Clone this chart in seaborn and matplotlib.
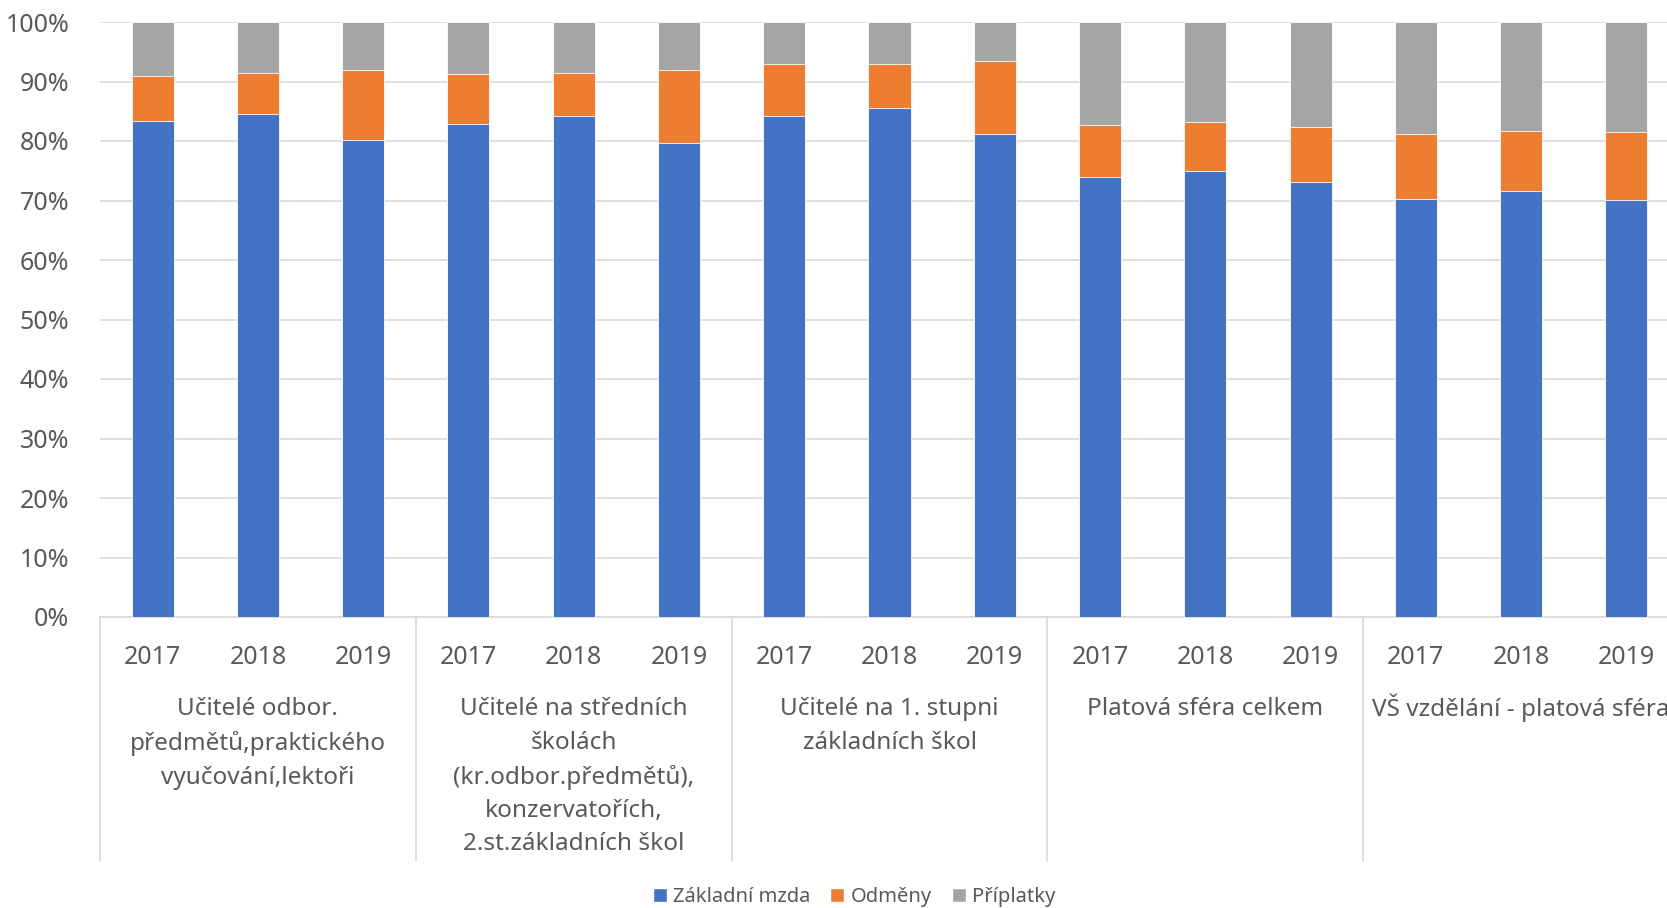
import pandas as pd
import numpy as np
import seaborn as sns
import matplotlib.pyplot as plt
import matplotlib.transforms as mtransforms
from matplotlib.patches import Patch

# data (percent of total pay)
groups = ['Učitelé odbor.\npředmětů,praktického\nvyučování,lektoři',
          'Učitelé na středních\nškolách\n(kr.odbor.předmětů),\nkonzervatořích,\n2.st.základních škol',
          'Učitelé na 1. stupni\nzákladních škol',
          'Platová sféra celkem',
          'VŠ vzdělání - platová sféra']
years = ['2017', '2018', '2019']
zakladni = [83.4, 84.5, 80.2, 82.9, 84.2, 79.7, 84.2, 85.6, 81.1, 73.9, 74.9, 73.1, 70.3, 71.6, 70.1]
odmeny = [7.5, 6.9, 11.8, 8.4, 7.3, 12.3, 8.8, 7.4, 12.4, 8.8, 8.3, 9.3, 10.9, 10.0, 11.4]
priplatky = [9.1, 8.6, 8.0, 8.7, 8.5, 8.0, 7.0, 7.0, 6.5, 17.3, 16.8, 17.6, 18.8, 18.4, 18.5]

series = ['Základní mzda', 'Odměny', 'Příplatky']
colors = ['#4472C4', '#ED7D31', '#A5A5A5']

df = pd.DataFrame({'slot': [str(i) for i in range(len(zakladni))],
                   'Základní mzda': zakladni, 'Odměny': odmeny, 'Příplatky': priplatky})
cum = df[series].cumsum(axis=1)

sns.set_style('white')
plt.rcParams['font.family'] = ['Noto Sans', 'DejaVu Sans']
txt = '#595959'

fig = plt.figure(figsize=(16.67, 9.08), dpi=100)
ax = fig.add_axes([100 / 1667, 1 - 617 / 908, 1579 / 1667, 595 / 908])

# draw cumulative totals back to front so they look stacked
for name, col in reversed(list(zip(series, colors))):
    sns.barplot(x=df['slot'], y=cum[name], color=col, width=0.4, saturation=1,
                edgecolor='white', linewidth=0.6, ax=ax, zorder=3)

ax.set_xlim(-0.5, 14.5)
ax.set_ylim(0, 100)
ax.set_yticks(np.arange(0, 101, 10))
ax.set_yticklabels([f'{v}%' for v in range(0, 101, 10)], color=txt, fontsize=18)
ax.set_xticks(range(15))
ax.set_xticklabels(years * 5, color=txt, fontsize=18)
ax.tick_params(axis='x', length=0, pad=20)
ax.tick_params(axis='y', length=0, pad=22)
ax.set_xlabel('')
ax.set_ylabel('')
ax.grid(axis='y', color='#D9D9D9', linewidth=1.2, zorder=0)
for s in ['top', 'right', 'left']:
    ax.spines[s].set_visible(False)
ax.spines['bottom'].set_color('#D9D9D9')
ax.spines['bottom'].set_linewidth(1.2)

trans = mtransforms.blended_transform_factory(ax.transData, ax.transAxes)
for i, g in enumerate(groups):
    # the caron on Š makes the box taller, nudge that one up a bit
    y0 = -0.128 if 'Š' in g.split('\n')[0] else -0.135
    ax.text(3 * i + 1, y0, g, transform=trans, ha='center', va='top',
            fontsize=17.5, color=txt, linespacing=1.52)
for xs in [-0.5, 2.5, 5.5, 8.5, 11.5, 14.5]:
    ax.plot([xs, xs], [0, -0.41], transform=trans, color='#D9D9D9',
            linewidth=1.2, clip_on=False)

handles = [Patch(facecolor=c, label=n) for n, c in zip(series, colors)]
fig.legend(handles=handles, loc='center', bbox_to_anchor=(854 / 1667, 1 - 897 / 908),
           ncol=3, frameon=False, fontsize=14.5, labelcolor=txt,
           handlelength=0.7, handleheight=0.7, handletextpad=0.3, columnspacing=1.0)

fig.savefig('out.png', dpi=100)
